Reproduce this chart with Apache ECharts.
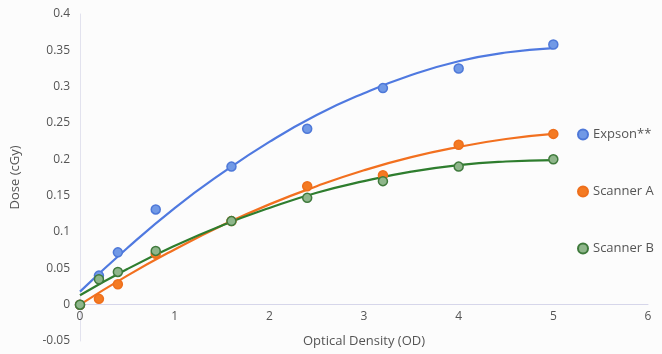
<!DOCTYPE html>
<html><head><meta charset="utf-8">
<script src="https://cdn.jsdelivr.net/npm/echarts@6/dist/echarts.min.js"></script>
<style>html,body{margin:0;padding:0;background:#fcfcfc}#c{width:662px;height:354px}</style>
</head><body><div id="c"></div>
<script>
var seriesNames = ['Expson**', 'Scanner A', 'Scanner B'];
var odPoints = [0, 0.2, 0.4, 0.8, 1.6, 2.4, 3.2, 4.0, 5.0];
var expsonDose = [0.0, 0.040, 0.072, 0.131, 0.190, 0.242, 0.298, 0.325, 0.358];
var scannerADose = [0.0, 0.008, 0.028, 0.070, 0.115, 0.163, 0.178, 0.220, 0.235];
var scannerBDose = [0.0, 0.035, 0.045, 0.074, 0.115, 0.147, 0.170, 0.190, 0.200];
var trendOD = [0, 0.5, 1, 1.5, 2, 2.5, 3, 3.5, 4, 4.5, 5];
var expsonTrend = [0.018, 0.078, 0.133, 0.181, 0.224, 0.261, 0.291, 0.316, 0.335, 0.347, 0.353];
var scannerATrend = [0.0, 0.040, 0.076, 0.109, 0.138, 0.163, 0.185, 0.203, 0.217, 0.228, 0.235];
var scannerBTrend = [0.013, 0.049, 0.081, 0.109, 0.133, 0.154, 0.170, 0.183, 0.192, 0.197, 0.199];
var xTicks = [0, 1, 2, 3, 4, 5, 6];
var yTicks = [-0.05, 0, 0.05, 0.1, 0.15, 0.2, 0.25, 0.3, 0.35, 0.4];

function pairs(xs, ys) { return xs.map(function (x, i) { return [x, ys[i]]; }); }

var font = 'Open Sans';
var lineColors = ['#4f79e0', '#f2701f', '#2e7d2e'];
var markFill = ['#7199e6', '#f47a22', '#8fb68b'];
var markBorder = ['#4e78d8', '#ee6f1c', '#3f7a3c'];
var trends = [expsonTrend, scannerATrend, scannerBTrend];
var doses = [expsonDose, scannerADose, scannerBDose];

var series = [];
for (var i = 0; i < 3; i++) {
  series.push({
    type: 'line', smooth: true, showSymbol: false, silent: true,
    data: pairs(trendOD, trends[i]),
    lineStyle: { color: lineColors[i], width: 2.2 }, z: 2
  });
}
for (var j = 0; j < 3; j++) {
  series.push({
    type: 'scatter', name: seriesNames[j], symbolSize: 9,
    data: pairs(odPoints, doses[j]),
    itemStyle: { color: markFill[j], borderColor: markBorder[j], borderWidth: 1.5, opacity: 1 }, z: 3
  });
}

var chart = echarts.init(document.getElementById('c'));
chart.setOption({
  backgroundColor: '#fcfcfc',
  animation: false,
  textStyle: { fontFamily: font },
  grid: { left: 80, right: 14, top: 14, bottom: 13, containLabel: false, outerBoundsMode: 'none' },
  legend: {
    data: seriesNames, orient: 'vertical', left: 572, top: 123, itemGap: 44,
    icon: 'circle', itemWidth: 10, itemHeight: 10,
    textStyle: { color: '#555', fontSize: 13, fontFamily: font }
  },
  xAxis: {
    type: 'value', min: xTicks[0], max: xTicks[xTicks.length - 1], interval: 1,
    name: 'Optical Density (OD)', nameLocation: 'middle', nameGap: -6,
    nameTextStyle: { color: '#555', fontSize: 13, fontFamily: font },
    axisLine: { onZero: true, lineStyle: { color: '#d6d6ea' } },
    axisTick: { show: false },
    axisLabel: { color: '#555', fontSize: 12, margin: -30 },
    splitLine: { show: false }
  },
  yAxis: {
    type: 'value', min: yTicks[0], max: yTicks[yTicks.length - 1], interval: 0.05,
    name: 'Dose (cGy)', nameLocation: 'middle', nameGap: 58,
    nameTextStyle: { color: '#555', fontSize: 13, fontFamily: font },
    axisLine: { show: true, lineStyle: { color: '#e2e2ee' } },
    axisTick: { show: false },
    axisLabel: { color: '#555', fontSize: 12, margin: 10,
      formatter: function (v) { return String(Math.round(v * 100) / 100); } },
    splitLine: { show: false }
  },
  series: series
});
</script></body></html>
